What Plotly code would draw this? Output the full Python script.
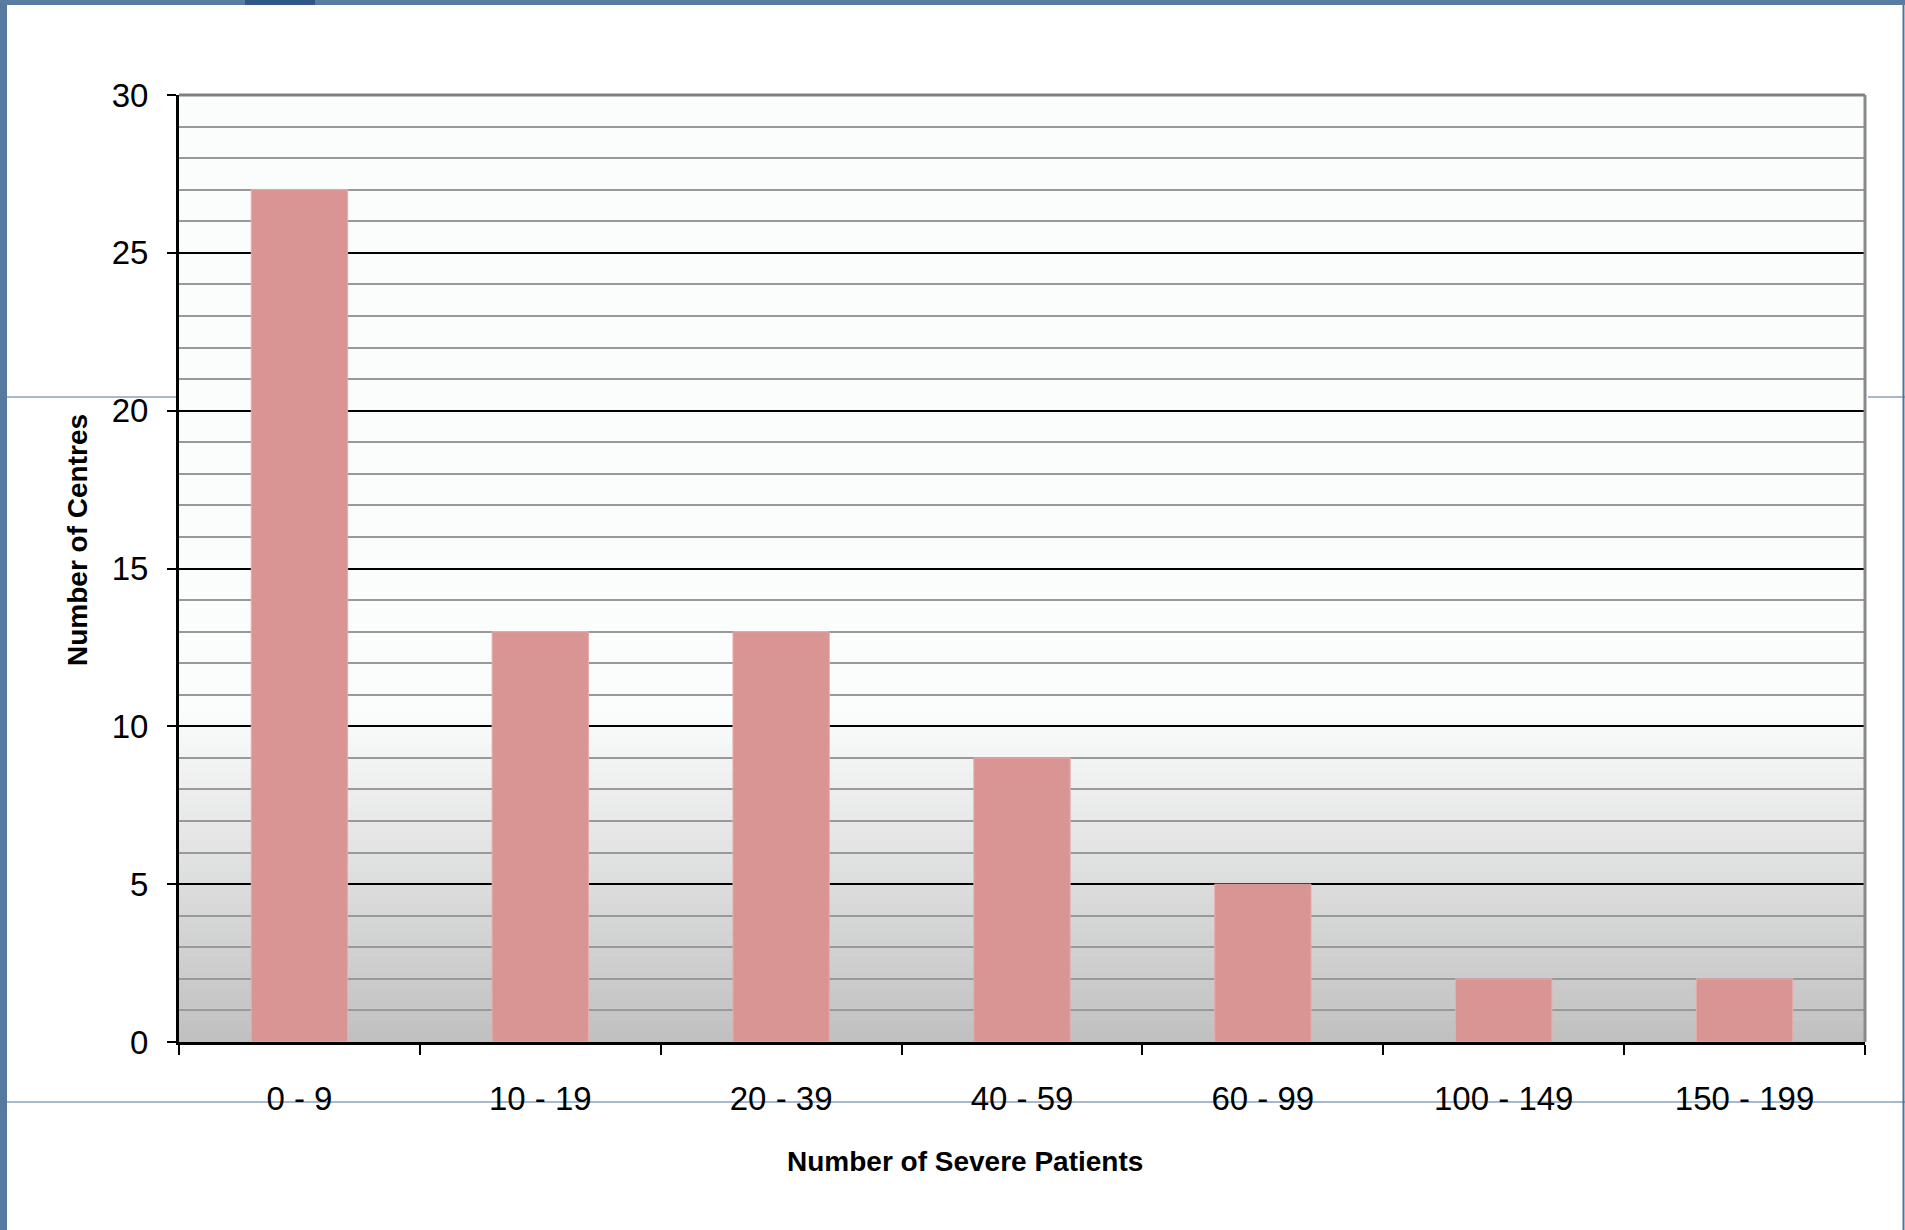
import plotly.graph_objects as go

categories = ["0 - 9", "10 - 19", "20 - 39", "40 - 59", "60 - 99", "100 - 149", "150 - 199"]
centres = [27, 13, 13, 9, 5, 2, 2]
y_ticks = [0, 5, 10, 15, 20, 25, 30]

W, H = 1905, 1230
L, R, T, B = 179, 1865, 95, 1042   # plot area in pixels


def px(x):
    return (x - L) / (R - L)


def py(y):
    return (B - y) / (B - T)


def mix(c1, c2, t):
    return "rgb({},{},{})".format(*[round(a + (b - a) * t) for a, b in zip(c1, c2)])


fig = go.Figure()

fig.add_trace(go.Bar(
    x=categories,
    y=centres,
    marker_color="#d99594",
    marker_line=dict(color="#e6adac", width=1),
    hoverinfo="x+y",
))

shapes = []
# gradient at the bottom of the plot area (0 -> ~10.5)
steps = 100
top = 10.5
low, high = (192, 192, 192), (251, 252, 252)
for i in range(steps):
    shapes.append(dict(
        type="rect", xref="paper", yref="y", layer="below",
        x0=0, x1=1, y0=top * i / steps, y1=top * (i + 1) / steps + 0.02,
        fillcolor=mix(low, high, i / (steps - 1)), line_width=0,
    ))

blue = "#4f729c"
# slide frame bits
shapes += [
    dict(type="rect", xref="paper", yref="paper", layer="below",
         x0=px(0), x1=px(7), y0=py(H), y1=py(0), fillcolor="#56799f", line_width=0),
    dict(type="rect", xref="paper", yref="paper", layer="below",
         x0=px(0), x1=px(W), y0=py(5), y1=py(0), fillcolor="#5a7ca3", line_width=0),
    dict(type="rect", xref="paper", yref="paper", layer="below",
         x0=px(245), x1=px(315), y0=py(5), y1=py(0), fillcolor="#2f5686", line_width=0),
    dict(type="line", xref="paper", yref="paper", layer="below",
         x0=px(7), x1=px(L - 3), y0=py(397), y1=py(397), line=dict(color=blue, width=1)),
    dict(type="line", xref="paper", yref="paper", layer="below",
         x0=px(R + 3), x1=px(W), y0=py(397), y1=py(397), line=dict(color=blue, width=1)),
    dict(type="line", xref="paper", yref="paper", layer="below",
         x0=px(7), x1=px(W), y0=py(1102), y1=py(1102), line=dict(color=blue, width=1)),
    dict(type="line", xref="paper", yref="paper", layer="below",
         x0=px(1903.5), x1=px(1903.5), y0=py(5), y1=py(H), line=dict(color=blue, width=2)),
]
# plot area border (top and right)
shapes += [
    dict(type="line", xref="paper", yref="paper", layer="above",
         x0=0, x1=1, y0=1, y1=1, line=dict(color="#808080", width=3)),
    dict(type="line", xref="paper", yref="paper", layer="above",
         x0=1, x1=1, y0=0, y1=1, line=dict(color="#8a8a8a", width=3)),
]

font_family = "Liberation Sans, Arial, sans-serif"

fig.update_layout(
    width=W, height=H,
    margin=dict(l=L, r=W - R, t=T, b=H - B),
    paper_bgcolor="white",
    plot_bgcolor="#fbfcfc",
    bargap=0.6,
    showlegend=False,
    font=dict(family=font_family, color="black", size=33),
    shapes=shapes,
    annotations=[
        dict(text="<b>Number of Severe Patients</b>", xref="paper", yref="paper",
             x=px(965), y=py(1161), xanchor="center", yanchor="middle", showarrow=False,
             font=dict(size=28, family=font_family, color="black")),
        dict(text="<b>Number of Centres</b>", xref="paper", yref="paper",
             x=px(77), y=py(540), xanchor="center", yanchor="middle", showarrow=False,
             textangle=-90,
             font=dict(size=28, family=font_family, color="black")),
    ],
)

fig.update_xaxes(
    type="category",
    showline=True, linecolor="black", linewidth=3,
    ticks="outside", tickson="boundaries", ticklen=10, tickwidth=2, tickcolor="black",
    showgrid=False, ticklabelstandoff=25,
    tickfont=dict(size=33),
)

fig.update_yaxes(
    range=[0, 30],
    tickvals=y_ticks,
    showline=True, linecolor="black", linewidth=3,
    ticks="outside", ticklen=9, tickwidth=2, tickcolor="black",
    showgrid=True, gridcolor="black", gridwidth=2,
    minor=dict(dtick=1, showgrid=True, gridcolor="#999999", gridwidth=2),
    zeroline=False, ticklabelstandoff=12,
    tickfont=dict(size=33),
)

fig.write_html("out.html", config={"displayModeBar": False},
               post_script="document.body.style.margin='0px';")
